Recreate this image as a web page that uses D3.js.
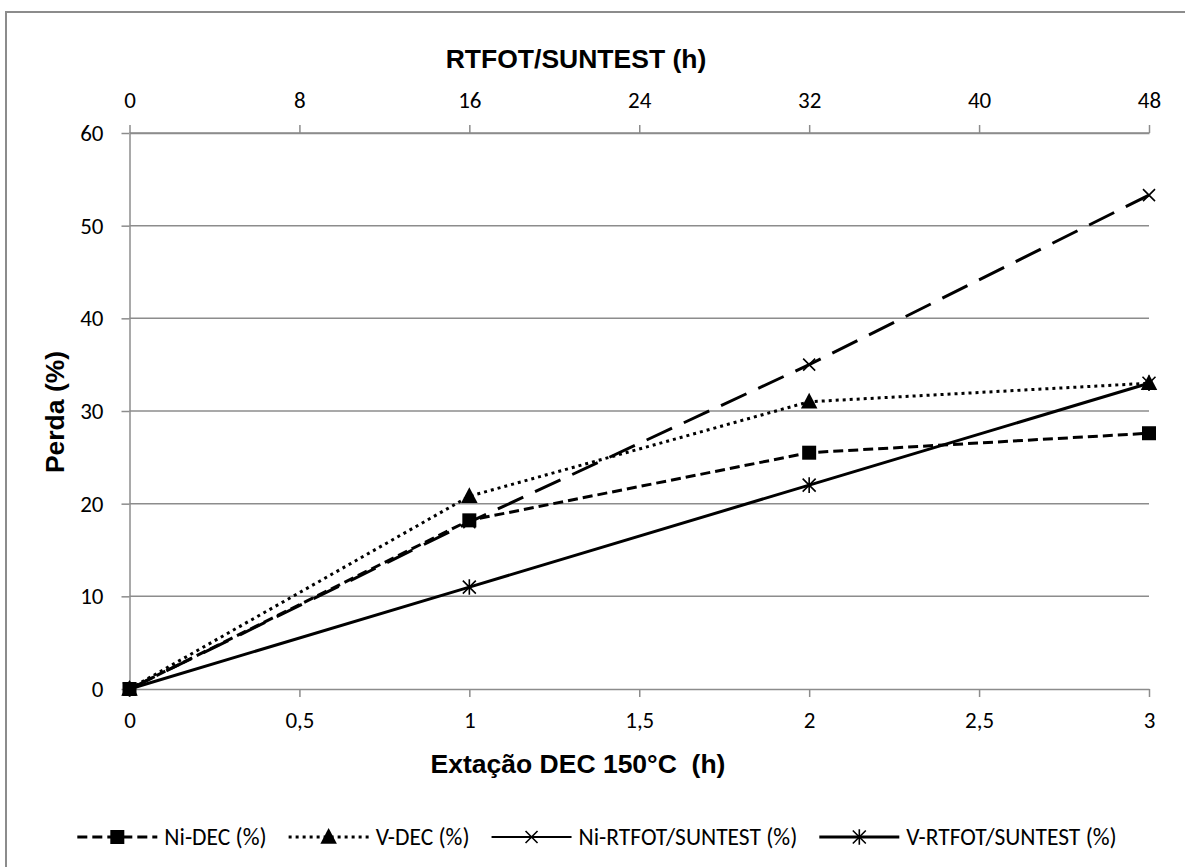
<!DOCTYPE html>
<html>
<head>
<meta charset="utf-8">
<script src="https://cdn.jsdelivr.net/npm/d3@7"></script>
<style>
  html, body { margin: 0; padding: 0; background: #fff; }
  svg { display: block; }
</style>
</head>
<body>
<svg id="chart" width="1185" height="867"></svg>
<script>
// Bottom axis: DEC extraction time (h); top axis: RTFOT/SUNTEST time (h)
const decHours = [0, 1, 2, 3];
const rtfotHours = [0, 16, 32, 48];

// Loss (%) per series
const niDec = [0, 18.2, 25.5, 27.6];
const vDec = [0, 20.8, 31.0, 33.0];
const niRtfot = [0, 18.0, 35.0, 53.3];
const vRtfot = [0, 11.0, 22.0, 33.0];

// Axis ticks
const bottomTicks = [0, 0.5, 1, 1.5, 2, 2.5, 3];
const topTicks = [0, 8, 16, 24, 32, 40, 48];
const yTicks = [0, 10, 20, 30, 40, 50, 60];

const seriesNames = ["Ni-DEC (%)", "V-DEC (%)", "Ni-RTFOT/SUNTEST (%)", "V-RTFOT/SUNTEST (%)"];

const svg = d3.select("#chart");
const gridColor = "#8c8c8c";
const tickFont = "Carlito, Lato, 'Open Sans', sans-serif";
const titleFont = "Arial, 'Liberation Sans', sans-serif";
const tickSize = "23px";
const legendSize = "23.5px";
const titleSize = "26.5px";

const plotLeft = 129.5, plotRight = 1149, plotTop = 133, plotBottom = 689;

const x = d3.scaleLinear().domain([0, 3]).range([plotLeft, plotRight]);
const xTop = d3.scaleLinear().domain([0, 48]).range([plotLeft, plotRight]);
const y = d3.scaleLinear().domain([0, 60]).range([plotBottom, plotTop]);

// Chart frame
svg.append("rect")
  .attr("x", 6).attr("y", 12).attr("width", 1200).attr("height", 900)
  .attr("fill", "none").attr("stroke", gridColor).attr("stroke-width", 2);

// Horizontal gridlines
svg.append("g").selectAll("line").data(yTicks.filter(d => d > 0)).join("line")
  .attr("x1", plotLeft).attr("x2", plotRight)
  .attr("y1", d => y(d)).attr("y2", d => y(d))
  .attr("stroke", gridColor).attr("stroke-width", 1.5);

function styleAxis(g) {
  g.selectAll(".domain").attr("stroke", gridColor).attr("stroke-width", 1.5);
  g.selectAll(".tick line").attr("stroke", gridColor).attr("stroke-width", 1.5);
  g.selectAll(".tick text")
    .attr("fill", "#000")
    .style("font-family", tickFont)
    .style("font-size", tickSize);
}

const fmtComma = d => String(d).replace(".", ",");

svg.append("g").attr("transform", `translate(0,${plotBottom})`)
  .call(d3.axisBottom(x).tickValues(bottomTicks).tickFormat(fmtComma)
    .tickSizeInner(8).tickSizeOuter(0).tickPadding(15))
  .call(styleAxis);

svg.append("g").attr("transform", `translate(0,${plotTop})`)
  .call(d3.axisTop(xTop).tickValues(topTicks).tickFormat(d3.format("d"))
    .tickSizeInner(8).tickSizeOuter(0).tickPadding(17))
  .call(styleAxis);

svg.append("g").attr("transform", `translate(${plotLeft},0)`)
  .call(d3.axisLeft(y).tickValues(yTicks).tickFormat(d3.format("d"))
    .tickSizeInner(8).tickSizeOuter(0).tickPadding(18))
  .call(styleAxis);

// Axis titles
svg.append("text").attr("x", 576).attr("y", 68)
  .attr("text-anchor", "middle")
  .style("font-family", titleFont).style("font-weight", "bold").style("font-size", titleSize)
  .text("RTFOT/SUNTEST (h)");

svg.append("text").attr("x", 578).attr("y", 773)
  .attr("text-anchor", "middle")
  .style("font-family", titleFont).style("font-weight", "bold").style("font-size", titleSize)
  .style("white-space", "pre")
  .text("Extação DEC 150°C  (h)");

svg.append("text")
  .attr("transform", "translate(64,412) rotate(-90)")
  .attr("text-anchor", "middle")
  .style("font-family", titleFont).style("font-weight", "bold").style("font-size", titleSize)
  .text("Perda (%)");

// Marker drawing helpers
const markers = {
  square: (g, size) => g.append("rect")
    .attr("x", -size / 2).attr("y", -size / 2).attr("width", size).attr("height", size)
    .attr("fill", "#000"),
  triangle: (g, size) => g.append("path")
    .attr("d", `M0,${-size * 0.6}L${size * 0.55},${size * 0.45}L${-size * 0.55},${size * 0.45}Z`)
    .attr("fill", "#000"),
  cross: (g, size) => g.append("path")
    .attr("d", `M${-size / 2},${-size / 2}L${size / 2},${size / 2}M${size / 2},${-size / 2}L${-size / 2},${size / 2}`)
    .attr("stroke", "#000").attr("stroke-width", 1.6).attr("fill", "none"),
  star: (g, size) => g.append("path")
    .attr("d", `M${-size / 2},${-size / 2}L${size / 2},${size / 2}M${size / 2},${-size / 2}L${-size / 2},${size / 2}M0,${-size * 0.6}L0,${size * 0.6}`)
    .attr("stroke", "#000").attr("stroke-width", 1.6).attr("fill", "none")
};

const series = [
  { name: seriesNames[0], xs: decHours, xs2: null, values: niDec, dash: "10,5", width: 3, marker: "square", msize: 14 },
  { name: seriesNames[1], xs: decHours, xs2: null, values: vDec, dash: "3,4", width: 3, marker: "triangle", msize: 15 },
  { name: seriesNames[2], xs: null, xs2: rtfotHours, values: niRtfot, dash: "28,13", width: 3, marker: "cross", msize: 12 },
  { name: seriesNames[3], xs: null, xs2: rtfotHours, values: vRtfot, dash: null, width: 3, marker: "star", msize: 13 }
];

const line = d3.line().x(d => d[0]).y(d => d[1]);

series.forEach(s => {
  const pts = s.values.map((v, i) => [s.xs ? x(s.xs[i]) : xTop(s.xs2[i]), y(v)]);
  svg.append("path").datum(pts)
    .attr("d", line)
    .attr("fill", "none").attr("stroke", "#000")
    .attr("stroke-width", s.width)
    .attr("stroke-dasharray", s.dash);
  pts.forEach(p => {
    const g = svg.append("g").attr("transform", `translate(${p[0]},${p[1]})`);
    markers[s.marker](g, s.msize);
  });
});

// Legend
const legend = svg.append("g");
const lineLen = 80, gapText = 7, gapItem = 22, legendY = 837;
let cursor = 0;
series.forEach((s, i) => {
  const g = legend.append("g");
  const dash = i === 2 ? null : s.dash;
  g.append("line").attr("x1", 0).attr("x2", lineLen).attr("y1", 0).attr("y2", 0)
    .attr("stroke", "#000").attr("stroke-width", i === 2 ? 2.2 : s.width)
    .attr("stroke-dasharray", dash);
  const m = g.append("g").attr("transform", `translate(${lineLen / 2},0)`);
  markers[s.marker](m, s.msize);
  const t = g.append("text").attr("x", lineLen + gapText).attr("y", 8)
    .style("font-family", tickFont).style("font-size", legendSize)
    .text(s.name);
  const w = lineLen + gapText + t.node().getComputedTextLength();
  g.attr("transform", `translate(${cursor},${legendY})`);
  cursor += w + gapItem;
});
const totalW = cursor - gapItem;
legend.attr("transform", `translate(${597 - totalW / 2},0)`);
</script>
</body>
</html>
